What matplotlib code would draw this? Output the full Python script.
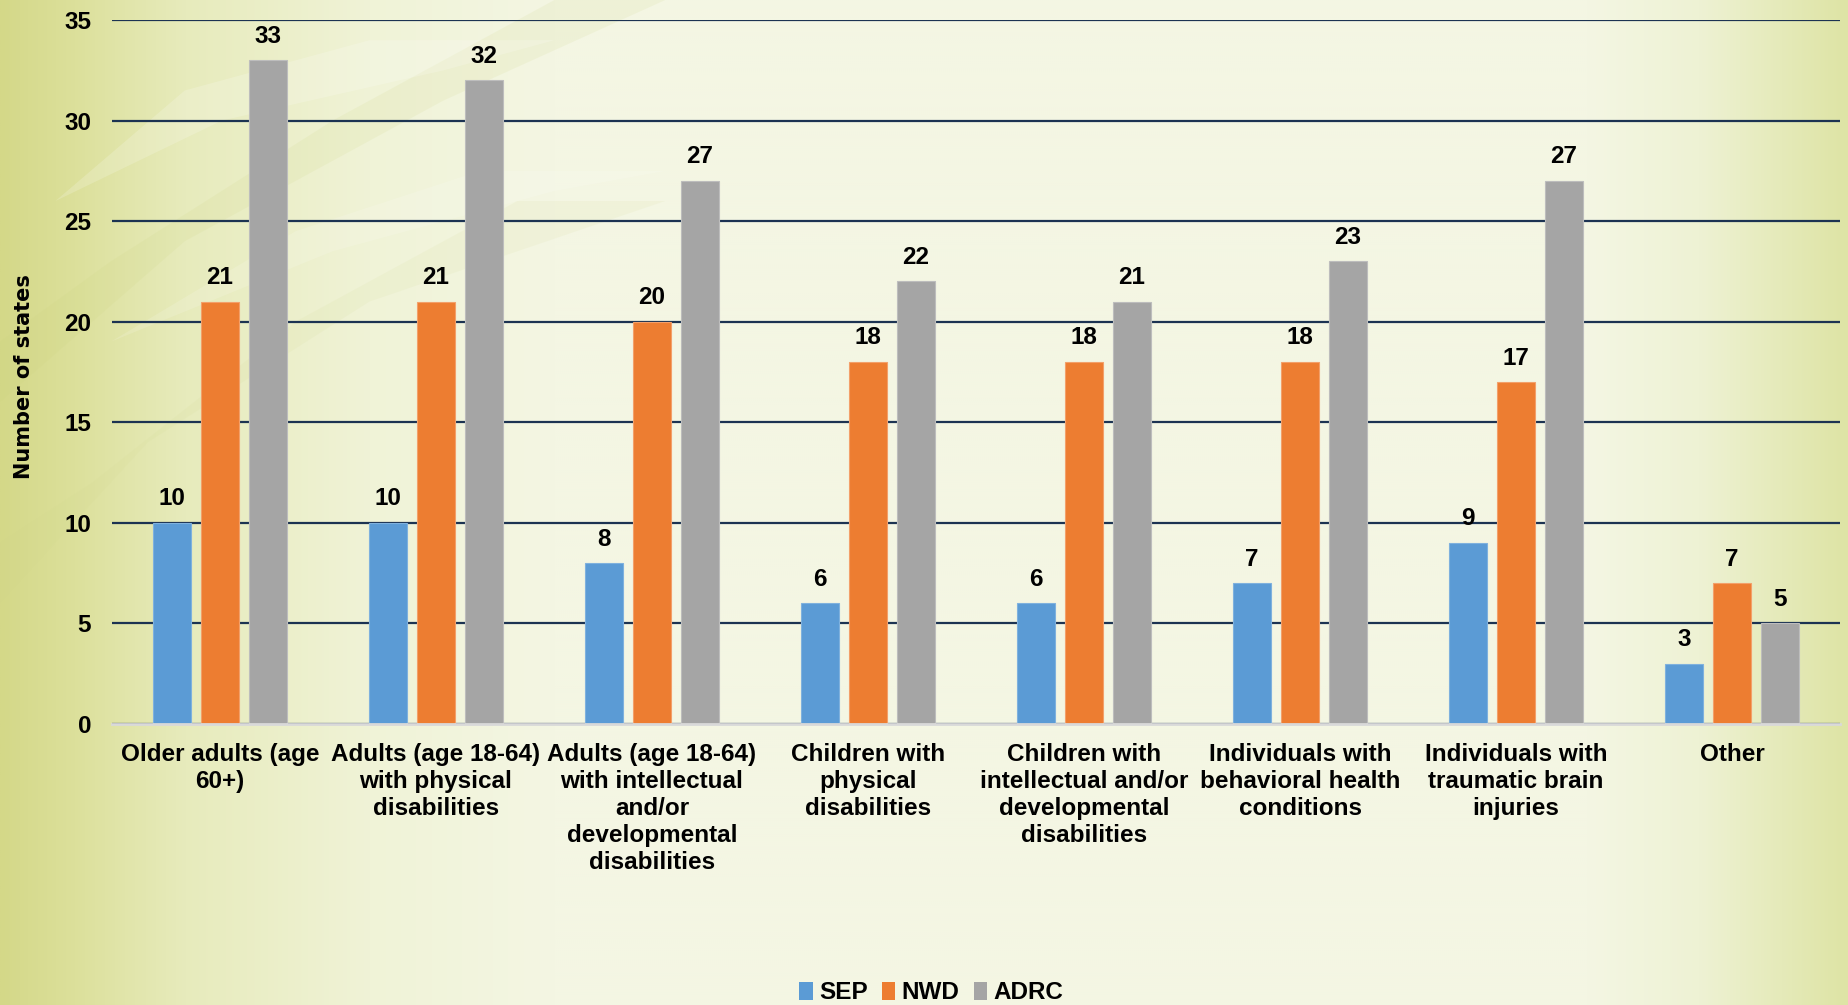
import numpy as np
import matplotlib
matplotlib.use("Agg")
import matplotlib.pyplot as plt
from matplotlib.patches import Patch, PathPatch
from matplotlib.path import Path

categories = [
    "Older adults (age\n60+)",
    "Adults (age 18-64)\nwith physical\ndisabilities",
    "Adults (age 18-64)\nwith intellectual\nand/or\ndevelopmental\ndisabilities",
    "Children with\nphysical\ndisabilities",
    "Children with\nintellectual and/or\ndevelopmental\ndisabilities",
    "Individuals with\nbehavioral health\nconditions",
    "Individuals with\ntraumatic brain\ninjuries",
    "Other",
]
series_names = ["SEP", "NWD", "ADRC"]
sep = [10, 10, 8, 6, 6, 7, 9, 3]
nwd = [21, 21, 20, 18, 18, 18, 17, 7]
adrc = [33, 32, 27, 22, 21, 23, 27, 5]
yticks = [0, 5, 10, 15, 20, 25, 30, 35]

COLORS = ["#5b9bd5", "#ed7d31", "#a5a5a5"]
EDGES = ["#7fb1de", "#f3a06a", "#bdbdbd"]
GRID = "#1c3352"
FS = 17.5

plt.rcParams.update({"font.family": "Liberation Sans", "font.weight": "bold"})

fig = plt.figure(figsize=(18.48, 10.05), dpi=100)

# slide background: olive edges fading into a cream centre
bg = fig.add_axes([0, 0, 1, 1], zorder=-10)
bg.set_axis_off()
W, H = 924, 502
xs = np.linspace(0, 1, W)
stops = [0.0, 0.04, 0.10, 0.20, 0.30, 0.86, 0.92, 0.97, 1.0]
r = np.interp(xs, stops, [212, 220, 231, 240, 244, 244, 238, 228, 222])
g = np.interp(xs, stops, [216, 224, 235, 243, 246, 246, 242, 233, 228])
b = np.interp(xs, stops, [136, 155, 188, 215, 227, 227, 212, 182, 165])
img = np.stack([np.tile(c, (H, 1)) for c in (r, g, b)], axis=-1) / 255.0
bg.imshow(img, extent=[0, 1, 0, 1], aspect="auto", origin="upper")
bg.set_xlim(0, 1)
bg.set_ylim(0, 1)

# faint leaf shapes in the upper left
leaves = [
    ([(0.0, 0.60), (0.10, 0.76), (0.24, 0.90), (0.36, 1.0), (0.30, 1.0),
      (0.18, 0.88), (0.06, 0.74), (0.0, 0.66)], "#c9d27a", 0.12),
    ([(0.03, 0.80), (0.12, 0.88), (0.24, 0.93), (0.30, 0.96), (0.20, 0.96),
      (0.10, 0.91)], "#ffffff", 0.18),
    ([(0.0, 0.40), (0.08, 0.56), (0.20, 0.70), (0.36, 0.80), (0.28, 0.80),
      (0.16, 0.68), (0.05, 0.52), (0.0, 0.46)], "#cfd68a", 0.10),
    ([(0.06, 0.66), (0.18, 0.75), (0.30, 0.81), (0.36, 0.83), (0.26, 0.83),
      (0.16, 0.77)], "#ffffff", 0.14),
]
for pts, col, a in leaves:
    path = Path(pts + [pts[0]], [Path.MOVETO] + [Path.LINETO] * (len(pts) - 1) + [Path.CLOSEPOLY])
    bg.add_patch(PathPatch(path, facecolor=col, edgecolor="none", alpha=a))

ax = fig.add_axes([112 / 1848, 1 - 724 / 1005, (1840 - 112) / 1848, (724 - 20) / 1005])
ax.set_facecolor("none")

x = np.arange(len(categories))
w = 0.176
step = 0.222
for i, vals in enumerate([sep, nwd, adrc]):
    bars = ax.bar(x + (i - 1) * step, vals, w, color=COLORS[i], edgecolor=EDGES[i],
                  linewidth=0.8, zorder=3, label=series_names[i])
    for rect, v in zip(bars, vals):
        ax.annotate(f"{v}", (rect.get_x() + rect.get_width() / 2, v),
                    xytext=(0, 9), textcoords="offset points", ha="center",
                    va="bottom", fontsize=FS, fontweight="bold", color="black")

ax.set_xlim(-0.5, len(categories) - 0.5)
ax.set_ylim(0, 35)
ax.set_yticks(yticks)
ax.set_xticks(x, categories, linespacing=1.22)
ax.tick_params(axis="y", length=0, pad=15, labelsize=FS)
ax.tick_params(axis="x", length=0, pad=14, labelsize=FS)
for lab in ax.get_xticklabels() + ax.get_yticklabels():
    lab.set_fontweight("bold")
ax.yaxis.grid(True, color=GRID, linewidth=1.6, zorder=0)
ax.set_axisbelow(True)
for s in ["top", "right", "left"]:
    ax.spines[s].set_visible(False)
ax.spines["bottom"].set_color("#d9d9d9")
ax.spines["bottom"].set_linewidth(2)
ax.spines["bottom"].set_zorder(4)

fig.text(24 / 1848, 1 - 377 / 1005, "Number of states", rotation=90, ha="center",
         va="center", fontsize=15, fontweight="bold", family="DejaVu Sans")

handles = [Patch(facecolor=c, edgecolor="none") for c in COLORS]
fig.legend(handles, series_names, loc="center", bbox_to_anchor=(0.504, 0.012),
           ncol=3, frameon=False, handlelength=0.55, handleheight=0.8,
           handletextpad=0.25, columnspacing=0.6, prop={"weight": "bold", "size": FS})

fig.savefig("out.png", dpi=100)
